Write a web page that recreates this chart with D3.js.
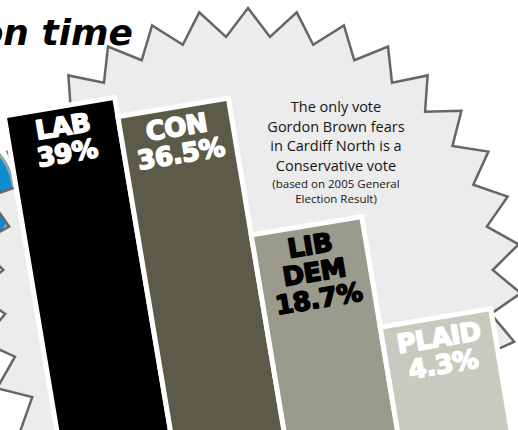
<!DOCTYPE html>
<html>
<head>
<meta charset="utf-8">
<script src="https://cdn.jsdelivr.net/npm/d3@7"></script>
<style>
  html, body { margin: 0; padding: 0; background: #fff; }
  svg { display: block; }
</style>
</head>
<body>
<div id="chart"><svg></svg></div>
<script>
// Cardiff North, 2005 general election result
const parties = ['LAB', 'CON', 'LIB DEM', 'PLAID'];
const shares = [39, 36.5, 18.7, 4.3];
const barColours = ['#000000', '#5c5a48', '#9b9b8d', '#c9c9bf'];
const labelColours = ['#ffffff', '#ffffff', '#000000', '#ffffff'];
const noteLines = ['The only vote', 'Gordon Brown fears', 'in Cardiff North is a', 'Conservative vote'];
const sourceLines = ['(based on 2005 General', 'Election Result)'];
const title = 'on time';

const width = 518;
const height = 430;
const TILT = -9.5;

const $svg = d3.select('#chart svg').attr('width', width).attr('height', height);

// blue roundel peeking out behind the burst
$svg.append('circle')
	.attr('cx', -50).attr('cy', 195).attr('r', 64)
	.attr('fill', '#0b8dcf')
	.attr('stroke', '#9aa3a8').attr('stroke-width', 3);

// starburst
function burst(cx, cy, rOut, rIn, spikes) {
	const pts = [];
	for (let i = 0; i < spikes * 2; i++) {
		const a = (i * Math.PI) / spikes;
		const r = i % 2 ? rIn : rOut;
		pts.push([cx + r * Math.sin(a), cy - r * Math.cos(a)]);
	}
	return d3.line().curve(d3.curveLinearClosed)(pts);
}

$svg.append('path')
	.attr('d', burst(248, 281, 273, 245, 35))
	.attr('fill', '#ebeceb')
	.attr('stroke', '#666')
	.attr('stroke-width', 2.5)
	.attr('stroke-linejoin', 'miter');

// note in the burst
const $note = $svg.append('g')
	.attr('text-anchor', 'middle')
	.attr('fill', '#161616')
	.style('font-family', '"Open Sans", sans-serif');

$note.selectAll('text.big')
	.data(noteLines)
	.enter()
	.append('text')
	.attr('class', 'big')
	.attr('x', 336)
	.attr('y', (d, i) => 112 + i * 19.5)
	.style('font-size', '14.5px')
	.text(d => d);

$note.selectAll('text.small')
	.data(sourceLines)
	.enter()
	.append('text')
	.attr('class', 'small')
	.attr('x', 336)
	.attr('y', (d, i) => 188 + i * 15)
	.style('font-size', '11.5px')
	.text(d => d);

// tilted bars
const x = d3.scaleBand().domain(parties).range([-15, 433]).padding(0);
const y = d3.scaleLinear().domain([0, d3.max(shares)]).range([421, 117]);
const base = 600;

const $bars = $svg.append('g').attr('transform', `rotate(${TILT})`);

const bar = $bars.selectAll('g.bar')
	.data(parties)
	.enter()
	.append('g')
	.attr('class', 'bar');

bar.append('rect')
	.attr('x', d => x(d))
	.attr('y', (d, i) => y(shares[i]) - 2)
	.attr('width', x.bandwidth())
	.attr('height', (d, i) => base - y(shares[i]))
	.attr('fill', (d, i) => barColours[i])
	.attr('stroke', '#fff')
	.attr('stroke-width', 5);

bar.each(function (d, i) {
	const lines = d.split(' ').concat(`${shares[i]}%`);
	d3.select(this).selectAll('text')
		.data(lines)
		.enter()
		.append('text')
		.attr('x', x(d) + x.bandwidth() / 2)
		.attr('y', (t, j) => y(shares[i]) + 27 + j * 27)
		.attr('text-anchor', 'middle')
		.attr('fill', labelColours[i])
		.attr('stroke', labelColours[i])
		.attr('stroke-width', 1.6)
		.attr('stroke-linejoin', 'round')
		.style('font-family', '"DejaVu Sans", sans-serif')
		.style('font-weight', 'bold')
		.style('font-size', '26px')
		.style('letter-spacing', '-0.5px')
		.text(t => t);
});

// headline (cut off at the left edge, as in the page it came from)
$svg.append('text')
	.attr('x', 133)
	.attr('y', 45)
	.attr('text-anchor', 'end')
	.attr('fill', '#000')
	.style('font-family', '"DejaVu Sans", sans-serif')
	.style('font-weight', 'bold')
	.style('font-style', 'italic')
	.style('font-size', '36px')
	.text(title);
</script>
</body>
</html>
